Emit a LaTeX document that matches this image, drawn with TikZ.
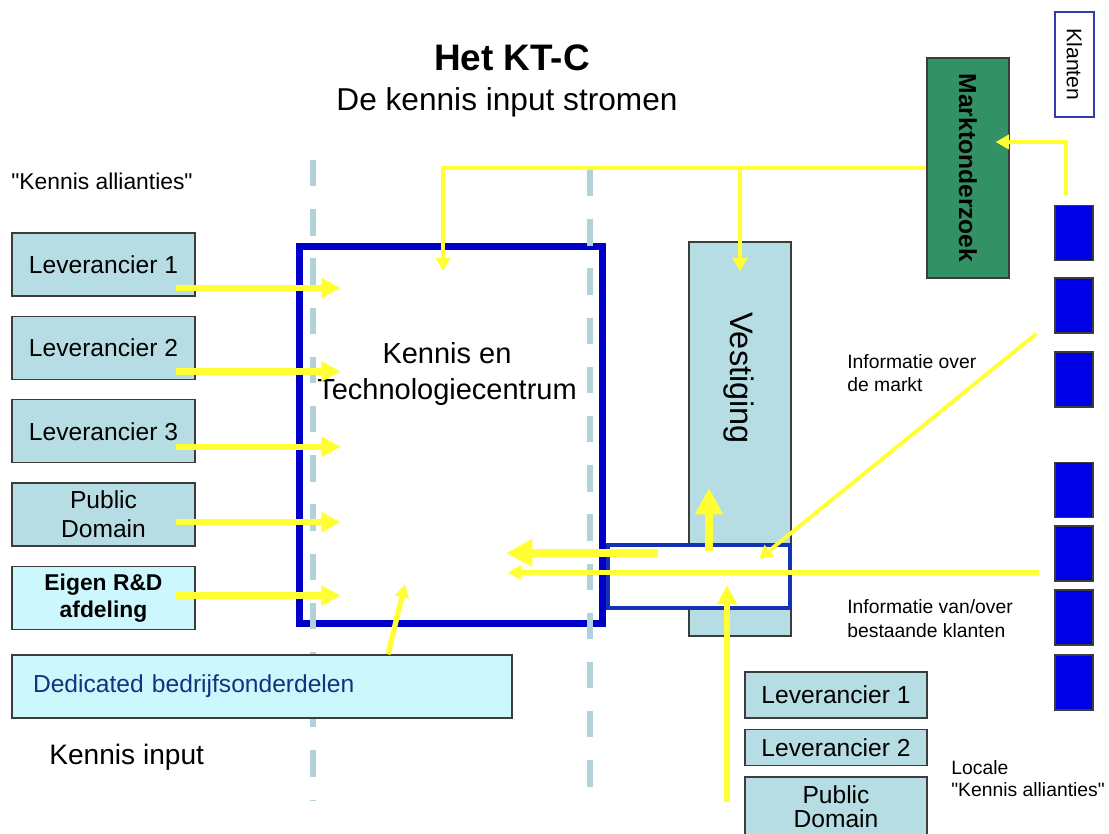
\documentclass[tikz,border=0pt]{standalone}
\usepackage{fontspec}
\setmainfont{Liberation Sans}
\usetikzlibrary{arrows.meta,positioning}

\definecolor{boxgrey}{RGB}{183,221,228}
\definecolor{boxcyan}{RGB}{204,247,252}
\definecolor{boxline}{RGB}{60,60,60}
\definecolor{ktblue}{RGB}{0,0,200}
\definecolor{sboxblue}{RGB}{20,50,180}
\definecolor{flowyellow}{RGB}{255,255,51}
\definecolor{dashgrey}{RGB}{176,210,216}
\definecolor{marktgreen}{RGB}{51,145,102}
\definecolor{klantblue}{RGB}{0,0,230}
\definecolor{klantline}{RGB}{50,60,170}
\definecolor{dedtext}{RGB}{20,50,130}

\begin{document}
\begin{tikzpicture}[
    x=0.02cm, y=-0.02cm,
    node distance=0.38cm,
    lbox/.style={draw=boxline,fill=boxgrey,line width=0.8pt,minimum width=3.66cm,minimum height=1.26cm,align=center,inner sep=0pt,font=\fontsize{14}{16.5}\selectfont},
    rbox/.style={lbox,minimum width=3.64cm},
    bluesq/.style={draw=boxline,fill=klantblue,line width=0.6pt,minimum width=0.76cm,minimum height=1.1cm,inner sep=0pt},
    flow/.style={draw=flowyellow,line width=3.6pt,-{Triangle[width=11pt,length=11pt]}},
    bigflow/.style={draw=flowyellow,line width=4.6pt,-{Triangle[width=15pt,length=15pt]}},
    thinflow/.style={draw=flowyellow,line width=2.6pt,-{Triangle[width=8pt,length=7.5pt]}},
    divider/.style={draw=dashgrey,line width=3.4pt,dash pattern=on 15pt off 13pt},
    txt/.style={inner sep=0pt,align=left}
  ]
    \clip (0,0) rectangle (1109,834);

    % centre and branch office
    \node[draw=ktblue,line width=4pt,minimum width=6.06cm,minimum height=7.54cm,inner sep=0pt] (kt) at (451,435) {};
    \node[draw=boxline,fill=boxgrey,line width=0.8pt,minimum width=2.04cm,minimum height=7.88cm] (vest) at (740,439) {};
    \node[draw=sboxblue,line width=2.4pt,fill=white,minimum width=3.64cm,minimum height=1.26cm] (sbox) at (699,576.5) {};
    \node[font=\fontsize{18.5}{20}\selectfont] (vesttxt) at (739,378) {\rotatebox{-90}{Vestiging}};
    \node[align=center,font=\fontsize{16.5}{20}\selectfont] (kttxt) at (447,374) {Kennis en\\Technologiecentrum};

    \draw[divider] (313,160) -- (313,800);
    \draw[divider] (590,170) -- (590,800);

    % kennis allianties
    \node[lbox] (lev1) at (103.5,264.5) {Leverancier 1};
    \node[lbox,below=of lev1] (lev2) {Leverancier 2};
    \node[lbox,below=of lev2] (lev3) {Leverancier 3};
    \node[lbox,below=of lev3] (pd) {Public\\Domain};
    \node[lbox,below=of pd,fill=boxcyan,font=\bfseries\fontsize{13}{15.5}\selectfont] (rd) {Eigen R\&D\\afdeling};
    \node[lbox,fill=boxcyan,minimum width=10cm,text width=9.16cm,inner xsep=0.42cm,align=left,text=dedtext] (ded) at (262,686.5) {Dedicated bedrijfsonderdelen};

    % locale allianties
    \node[rbox,minimum height=0.92cm] (rlev1) at (836,695) {Leverancier 1};
    \node[rbox,minimum height=0.72cm,below=0.2cm of rlev1] (rlev2) {Leverancier 2};
    \node[rbox,minimum height=1.2cm,font=\fontsize{14}{14}\selectfont,below=0.2cm of rlev2] (rpd) {Public\\Domain};

    % markt en klanten
    \node[draw=boxline,fill=marktgreen,line width=0.8pt,minimum width=1.64cm,minimum height=4.4cm,font=\bfseries\fontsize{14}{16}\selectfont] (markt) at (968,168) {\rotatebox{-90}{Marktonderzoek}};
    \node[draw=klantline,line width=1.5pt,fill=white,minimum width=0.78cm,minimum height=2.1cm,font=\fontsize{12}{14}\selectfont] (klanten) at (1074.5,64.5) {\rotatebox{-90}{Klanten}};
    \node[bluesq] (k1) at (1074,233) {};
    \node[bluesq] (k2) at (1074,305.5) {};
    \node[bluesq] (k3) at (1074,379.5) {};
    \node[bluesq] (k4) at (1074,490) {};
    \node[bluesq] (k5) at (1074,553.5) {};
    \node[bluesq] (k6) at (1074,617.5) {};
    \node[bluesq] (k7) at (1074,682.5) {};

    % teksten
    \node[font=\bfseries\fontsize{21}{24}\selectfont] (title) at (512,58) {Het KT-C};
    \node[font=\fontsize{18}{21}\selectfont] (subtitle) at (507,102) {De kennis input stromen};
    \node[txt,anchor=west,font=\fontsize{13}{15}\selectfont] (alliant) at (11,181) {\textquotedbl Kennis allianties\textquotedbl};
    \node[txt,anchor=west,font=\fontsize{16}{19}\selectfont] (kinput) at (49,757) {Kennis input};
    \node[txt,anchor=north west,font=\fontsize{11}{13}\selectfont] (infomarkt) at (847,354) {Informatie over\\de markt};
    \node[txt,anchor=north west,font=\fontsize{11}{14}\selectfont] (infoklant) at (847,599) {Informatie van/over\\bestaande klanten};
    \node[txt,anchor=north west,font=\fontsize{11}{12.5}\selectfont] (locale) at (951,760) {Locale\\\textquotedbl Kennis allianties\textquotedbl};

    % stromen
    \draw[flow] ([xshift=-0.4cm,yshift=-0.47cm]lev1.east) -- ++(3.3cm,0);
    \draw[flow] ([xshift=-0.4cm,yshift=-0.47cm]lev2.east) -- ++(3.3cm,0);
    \draw[flow] ([xshift=-0.4cm,yshift=-0.31cm]lev3.east) -- ++(3.3cm,0);
    \draw[flow] ([xshift=-0.4cm,yshift=-0.15cm]pd.east) -- ++(3.3cm,0);
    \draw[flow] ([xshift=-0.4cm,yshift=0.05cm]rd.east) -- ++(3.3cm,0);
    \draw[thinflow,line width=3pt] ([xshift=2.52cm]ded.north) -- ++(0.34cm,1.4cm);

    \draw[thinflow] (markt.west) -| ([xshift=-0.16cm,yshift=-0.56cm]kt.north);
    \draw[thinflow] (vest.north |- markt.west) -- ([yshift=-0.6cm]vest.north);
    \draw[thinflow] ([xshift=-0.16cm,yshift=0.2cm]k1.north) |- ([xshift=-0.28cm,yshift=0.52cm]markt.east);
    \draw[thinflow,line width=2.2pt] ([xshift=-0.36cm]k2.south west) -- ([xshift=-0.66cm,yshift=-0.32cm]sbox.north east);
    \draw[thinflow,line width=2.8pt] ([xshift=-0.3cm,yshift=-0.38cm]k5.west) -- ++(-10.64cm,0);

    \draw[bigflow] ([xshift=1.04cm,yshift=0.47cm]sbox.west) -- ++(-3.04cm,0);
    \draw[bigflow] ([xshift=0.2cm,yshift=-0.16cm]sbox.north) -- ++(0,1.26cm);
    \draw[flow] ([xshift=0.56cm,yshift=-3.84cm]sbox.south) -- ([xshift=0.56cm,yshift=0.5cm]sbox.south);
  \end{tikzpicture}
\end{document}
